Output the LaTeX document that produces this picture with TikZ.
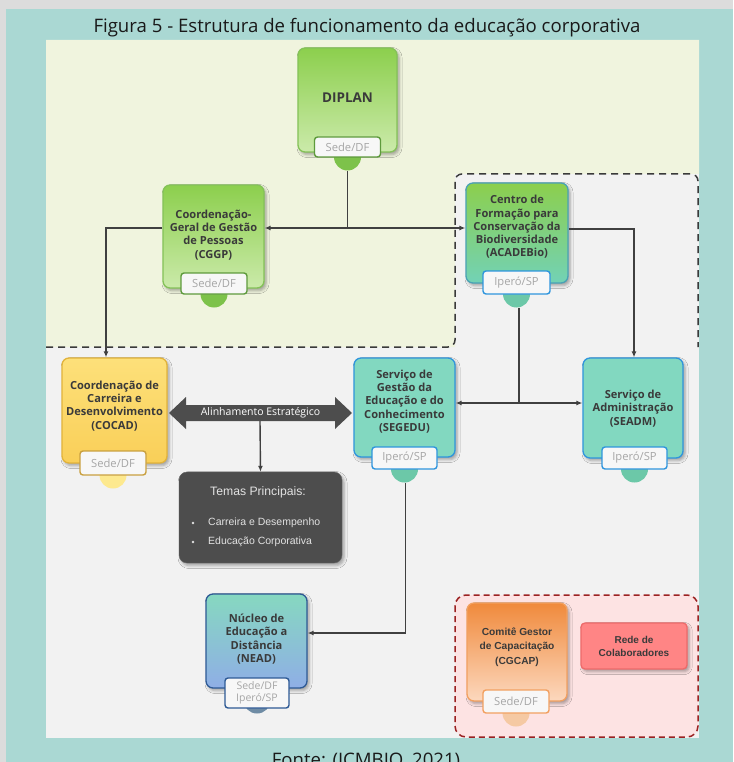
\documentclass[tikz,border=0pt]{standalone}
\usepackage{fontspec}
\setmainfont{Open Sans}
\newfontfamily\arialf{Liberation Sans}
\usetikzlibrary{arrows.meta,shadows.blur,calc}
\definecolor{bggrey}{HTML}{DCDCDC}
\definecolor{tealbg}{HTML}{AAD8D3}
\definecolor{lowgrey}{HTML}{F2F2F2}
\definecolor{topyel}{HTML}{F0F4DE}
\definecolor{pinkbg}{HTML}{FDE3E3}
\definecolor{pinkline}{HTML}{9B2222}
\definecolor{connc}{HTML}{404040}
\definecolor{boxtext}{HTML}{3A3A3A}
\definecolor{tabfill}{HTML}{F7F7F7}
\definecolor{tabtext}{HTML}{A6A6A6}
\definecolor{grnt}{HTML}{8CCF4D}
\definecolor{grnbot}{HTML}{CBEAAA}
\definecolor{grnb}{HTML}{84C258}
\definecolor{grntab}{HTML}{5E9A3C}
\definecolor{grnbulb}{HTML}{7DC24A}
\definecolor{tealbox}{HTML}{82D8C0}
\definecolor{tealbot}{HTML}{72D2B6}
\definecolor{blueb}{HTML}{2F95DD}
\definecolor{tealbulb}{HTML}{6CC8A8}
\definecolor{yelt}{HTML}{FDE07A}
\definecolor{yelbot}{HTML}{F9CF58}
\definecolor{yelb}{HTML}{E2B33A}
\definecolor{yeltab}{HTML}{C9A040}
\definecolor{yelbulb}{HTML}{FDE98F}
\definecolor{neadt}{HTML}{86D8C0}
\definecolor{neadbot}{HTML}{8FAEE6}
\definecolor{neadb}{HTML}{2E5A95}
\definecolor{neadbulb}{HTML}{6F8CA5}
\definecolor{orat}{HTML}{F08A3C}
\definecolor{orabot}{HTML}{FCD8BE}
\definecolor{orab}{HTML}{F2A060}
\definecolor{orabulb}{HTML}{F5C9A3}
\definecolor{redefill}{HTML}{FF8585}
\definecolor{redeb}{HTML}{EE6A6A}
\definecolor{temasfill}{HTML}{4D4D4D}
\definecolor{temastext}{HTML}{E2E2E2}
\newcommand\mybxf{\fontsize{11.1}{13.3}\selectfont\bfseries}
\newcommand\mytabf{\fontsize{11.2}{12}\selectfont}
\begin{document}
\begin{tikzpicture}[x=1pt,y=-1pt,
  conn/.style={draw=connc, line width=1.4pt},
  arr/.style={-{Latex[length=6pt,width=5pt]}},
  box/.style={rounded corners=7pt, line width=1.3pt,
    blur shadow={shadow xshift=2pt,shadow yshift=-2.5pt,shadow opacity=35,shadow blur radius=3pt}},
  btext/.style={align=center, font=\mybxf, text=boxtext, inner sep=0pt},
  atext/.style={align=center, font=\arialf\fontsize{10.2}{14.5}\selectfont\bfseries, text=boxtext, inner sep=0pt},
  tabbox/.style={rounded corners=3pt, fill=tabfill, line width=1.4pt, font=\mytabf, text=tabtext, inner sep=0pt, align=center},
  bulb/.style={circle, minimum size=27pt, inner sep=0pt}
]
\useasboundingbox (0,0) rectangle (733,762);
% backgrounds
\fill[bggrey] (0,0) rectangle (733,762);
\fill[tealbg] (6,9) rectangle (733,762);
\fill[lowgrey] (46,40) rectangle (699,738);
\fill[topyel] (46,40) -- (699,40) -- (699,174) -- (455,174) -- (455,347) -- (46,347) -- cycle;
\draw[connc!90!black, line width=1.5pt, dash pattern=on 7pt off 5pt, rounded corners=7pt]
  (46,347) -- (455,347) -- (455,174) -- (698,174) -- (698,347);
\draw[pinkline, fill=pinkbg, line width=1.5pt, dash pattern=on 6pt off 4pt, rounded corners=11pt]
  (455,595) rectangle (698,737);

% titles
\node[anchor=base, font=\fontsize{18.6}{21}\selectfont, text=black!90] (title) at (367,33)
  {Figura 5 - Estrutura de funcionamento da educação corporativa};
\node[anchor=base, font=\fontsize{18.6}{21}\selectfont, text=black!90] (fonte) at (366,766)
  {Fonte: (ICMBIO, 2021)};

% DIPLAN
\node[box, minimum width=99pt, minimum height=104pt, draw=grnb, top color=grnt, bottom color=grnbot] (diplan) at (347.5,100) {};
\node[bulb, fill=grnbulb] (diplanb) at (347.5,157) {};
\node[tabbox, draw=grntab, minimum width=66pt, minimum height=20pt] (diplant) at (347.5,147) {Sede/DF};
\node[btext, font=\fontsize{13.5}{15}\selectfont\bfseries] (diplanx) at (347.5,98) {DIPLAN};

% CGGP
\node[box, minimum width=101pt, minimum height=103pt, draw=grnb, top color=grnt, bottom color=grnbot] (cggp) at (213.5,236.5) {};
\node[bulb, fill=grnbulb] (cggpb) at (214,294) {};
\node[tabbox, draw=grntab, minimum width=66pt, minimum height=21pt] (cggpt) at (214,283.5) {Sede/DF};
\node[btext] (cggpx) at (213.5,235) {Coordenação-\\Geral de Gestão\\de Pessoas\\(CGGP)};

% ACADEBio
\node[box, minimum width=102pt, minimum height=100pt, draw=blueb!70!grnb, top color=grnt, bottom color=tealbot] (acad) at (517,233) {};
\node[bulb, fill=tealbulb] (acadb) at (516.5,294) {};
\node[tabbox, draw=blueb, minimum width=67pt, minimum height=23pt] (acadt) at (516.5,282.5) {Iperó/SP};
\node[btext] (acadx) at (517,227) {Centro de\\Formação para\\Conservação da\\Biodiversidade\\(ACADEBio)};

% COCAD
\node[box, minimum width=105pt, minimum height=105pt, draw=yelb, top color=yelt, bottom color=yelbot] (cocad) at (114.5,410.5) {};
\node[bulb, fill=yelbulb] (cocadb) at (113,475) {};
\node[tabbox, draw=yeltab, minimum width=66pt, minimum height=24pt] (cocadt) at (113,463) {Sede/DF};
\node[btext] (cocadx) at (114.5,406) {Coordenação de\\Carreira e\\Desenvolvimento\\(COCAD)};

% SEGEDU
\node[box, minimum width=101pt, minimum height=99pt, draw=blueb, fill=tealbox] (segedu) at (404.5,407.5) {};
\node[bulb, fill=tealbulb] (segedub) at (404.5,469) {};
\node[tabbox, draw=blueb, minimum width=65pt, minimum height=22pt] (segedut) at (404.5,458) {Iperó/SP};
\node[btext] (segedux) at (404.5,401.5) {Serviço de\\Gestão da\\Educação e do\\Conhecimento\\(SEGEDU)};

% SEADM
\node[box, minimum width=100pt, minimum height=100pt, draw=blueb, fill=tealbox] (seadm) at (633,408) {};
\node[bulb, fill=tealbulb] (seadmb) at (634.5,469) {};
\node[tabbox, draw=blueb, minimum width=65pt, minimum height=22pt] (seadmt) at (634.5,458) {Iperó/SP};
\node[btext] (seadmx) at (633,408.5) {Serviço de\\Administração\\(SEADM)};

% NEAD
\node[box, minimum width=101pt, minimum height=94pt, draw=neadb, top color=neadt, bottom color=neadbot] (nead) at (256.5,641) {};
\node[bulb, fill=neadbulb] (neadb) at (257,700) {};
\node[tabbox, draw=neadb, minimum width=64pt, minimum height=30pt, font=\fontsize{10.5}{12.5}\selectfont] (neadt) at (257,693) {Sede/DF\\Iperó/SP};
\node[btext] (neadx) at (256.5,639) {Núcleo de\\Educação a\\Distância\\(NEAD)};

% CGCAP
\node[box, minimum width=100pt, minimum height=98pt, draw=orab, top color=orat, bottom color=orabot] (cgcap) at (517,652) {};
\node[bulb, fill=orabulb] (cgcapb) at (516,713) {};
\node[tabbox, draw=orab, minimum width=66pt, minimum height=23pt] (cgcapt) at (516,701.5) {Sede/DF};
\node[atext] (cgcapx) at (517,647) {Comitê Gestor\\de Capacitação\\(CGCAP)};

% Rede
\node[box, rounded corners=4pt, minimum width=106pt, minimum height=46pt, draw=redeb, fill=redefill] (rede) at (634,646) {};
\node[atext, font=\arialf\fontsize{10}{13}\selectfont\bfseries] (redex) at (634,646.5) {Rede de\\Colaboradores};

% Temas
\node[rounded corners=8pt, minimum width=163pt, minimum height=91pt, fill=temasfill, draw=black!60,
  blur shadow={shadow xshift=2pt,shadow yshift=-2.5pt,shadow opacity=35,shadow blur radius=3pt}] (temas) at (260.5,517.5) {};
\node[font=\arialf\fontsize{12.2}{14}\selectfont, text=temastext, inner sep=0pt] (temash) at (258,492) {Temas Principais:};
\node[font=\arialf\fontsize{10.5}{12}\selectfont, text=temastext, inner sep=0pt, anchor=west] (temas1) at (208,523) {Carreira e Desempenho};
\node[font=\arialf\fontsize{10.5}{12}\selectfont, text=temastext, inner sep=0pt, anchor=west] (temas2) at (208,542) {Educação Corporativa};
\fill[temastext] (193,523) circle (1.4pt);
\fill[temastext] (193,542) circle (1.4pt);

% big double arrow
\fill[temasfill] (169,413) -- (186,397) -- (186,405) -- (335,405) -- (335,397) -- (352,413)
  -- (335,429) -- (335,421) -- (186,421) -- (186,429) -- cycle;
\node[font=\fontsize{10.5}{12}\selectfont, text=white, inner sep=0pt] (alinh) at (260.5,413) {Alinhamento Estratégico};
\coordinate (alinhb) at (260,421);

% connectors
\coordinate (j1) at (347.5,228);
\draw[conn] (diplanb.south) -- (j1);
\draw[conn, arr] (j1) -- (j1 -| cggp.east);
\draw[conn, arr] (j1) -- (j1 -| acad.west);
\coordinate (k1) at (106,228);
\draw[conn, arr] (k1 -| cggp.west) -- (k1) -- (k1 |- cocad.north);
\coordinate (k2) at (634,229);
\draw[conn, arr] (k2 -| acad.east) -- (k2) -- (k2 |- seadm.north);
\coordinate (j2) at (519,403);
\draw[conn] (j2 |- acadb.south) -- (j2);
\draw[conn, arr] (j2) -- (j2 -| segedu.east);
\draw[conn, arr] (j2) -- (j2 -| seadm.west);
\coordinate (k3) at (405.5,633);
\draw[conn, arr] (k3 |- segedub.south) -- (k3) -- (k3 -| nead.east);
\draw[conn, arr] (alinhb) -- (temas.north);
\end{tikzpicture}
\end{document}
